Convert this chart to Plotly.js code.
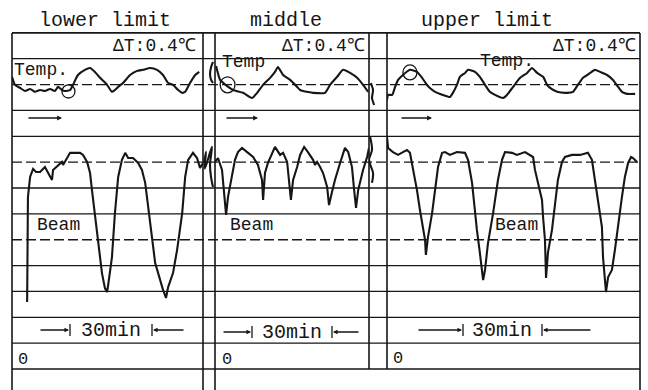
<!DOCTYPE html>
<html><head><meta charset="utf-8">
<script src="https://cdn.plot.ly/plotly-3.0.1.min.js"></script>
<style>html,body{margin:0;padding:0;background:#fff}#c{width:648px;height:390px}</style>
</head><body><div id="c"></div>
<script>
// ---- text ----
const panelTitles = ['lower limit', 'middle', 'upper limit'];
const deltaLabel = 'ΔT:0.4℃';
const tempLabels = ['Temp.', 'Temp', 'Temp.'];
const beamLabel = 'Beam';
const scaleLabel = '30min';
const zeroLabel = '0';

// ---- data: time in minutes from panel start, value in chart divisions ----
// lower limit
const lowerTempT = [0,1.1,3.0,4.8,6.7,8.5,10.4,12.2,14.1,15.9,17.0,18.5,19.6,21.5,22.6,24.4,27.0,28.9,30.7,32.6,35.2,37.0,38.1,39.3,41.1,43.7,46.3,48.5,51.1,53.7,55.9,57.8,59.6,61.5,63.0,64.1,65.9,67.8,69.3];
const lowerTempV = [11.30,10.99,10.87,10.75,10.83,10.72,10.79,10.75,10.83,10.75,10.91,10.79,10.75,10.79,10.99,11.37,11.57,11.64,11.49,11.26,10.99,10.72,10.79,10.91,11.06,11.37,11.53,11.57,11.64,11.57,11.37,11.06,10.99,10.79,10.68,10.72,11.06,11.37,11.49];
const lowerBeamT = [5.6,5.9,6.7,7.8,8.9,10.4,12.2,13.3,14.8,15.2,17.0,18.5,18.9,20.4,21.5,25.2,26.3,27.8,28.9,29.6,30.7,31.9,33.3,34.4,35.2,35.6,37.0,38.1,39.3,40.7,41.9,43.0,44.8,46.7,48.1,49.3,50.4,51.9,53.0,54.1,54.8,55.9,57.0,57.8,59.6,61.1,63.0,64.1,65.2,67.0,68.5,69.6,70.7];
const lowerBeamV = [2.59,6.65,7.43,7.74,7.62,7.62,7.81,7.62,7.31,7.70,7.89,8.01,7.89,8.16,8.36,8.36,8.28,8.01,7.58,6.92,6.03,4.87,3.71,3.13,2.98,3.25,4.33,6.03,7.43,8.09,8.36,8.16,8.16,7.97,7.70,7.20,6.27,5.11,4.10,3.71,3.44,3.06,2.75,3.17,3.71,4.60,6.03,7.43,8.09,8.36,8.16,7.78,7.97];
// middle
const middleTempT = [0.4,1.9,4.4,6.7,10.4,13.7,15.6,17.8,20.4,22.2,23.3,25.2,27.8,30.4,31.5,32.6,34.1,36.3,40.7,42.6,45.2,47.4,50.0,52.6,54.8,56.7];
const middleTempV = [11.72,11.18,10.95,10.79,10.68,10.48,10.68,10.99,11.26,11.49,11.68,11.37,11.18,10.91,10.79,10.75,10.72,10.68,10.68,10.99,11.30,11.57,11.45,11.26,10.99,10.72];
const middleBeamT = [0,1.1,2.6,4.1,4.8,6.3,7.4,8.5,10.0,11.9,14.1,15.9,17.4,17.8,18.5,19.6,21.1,22.2,24.1,25.2,26.7,27.4,28.1,28.9,30.4,31.5,33.0,34.4,36.3,37.0,37.8,38.9,40.0,41.5,42.2,43.3,44.4,46.3,48.1,49.3,50.7,51.5,52.2,53.0,54.8,56.3,57.0];
const middleBeamV = [8.01,8.16,7.70,5.96,6.65,7.58,8.09,8.39,8.55,8.39,8.20,7.89,7.31,6.54,7.58,7.97,8.36,8.59,8.28,8.36,8.01,7.31,6.54,7.31,7.81,8.28,8.59,8.39,8.09,7.89,8.01,7.81,7.58,7.04,6.34,6.85,7.31,7.97,8.55,8.39,7.81,6.92,6.23,6.92,7.70,8.20,8.55];
// upper limit
const upperTempT = [0,0.4,1.9,3.0,4.1,5.9,8.5,11.1,13.0,14.8,15.9,17.8,20.7,23.3,24.4,25.9,27.0,28.9,30.0,32.6,34.4,36.3,38.1,40.0,43.0,44.4,46.7,49.3,51.9,53.7,55.6,57.8,59.3,60.4,63.0,66.7,68.9,70.7,72.6,75.2,77.0,78.9,81.5,83.7,85.6,87.0,88.9,91.9];
const upperTempV = [10.41,10.60,10.60,10.91,11.18,11.37,11.57,11.49,11.26,10.99,10.87,10.72,10.60,10.52,10.68,10.99,11.30,11.45,11.57,11.49,11.30,10.99,10.72,10.60,10.48,10.60,10.91,11.26,11.45,11.64,11.45,11.30,10.99,10.87,10.72,10.68,10.72,10.99,11.26,11.45,11.57,11.49,11.37,11.18,10.91,10.72,10.64,10.64];
const upperBeamT = [0,0.4,2.2,4.1,5.9,7.4,8.5,9.6,11.1,12.2,13.3,14.1,14.4,15.2,16.7,17.8,18.9,20.4,21.5,23.3,25.9,28.9,30.0,31.5,32.6,33.3,34.4,35.6,36.3,37.4,39.3,41.1,42.6,43.7,46.3,48.1,51.1,54.1,54.8,55.9,57.4,57.8,58.5,58.9,59.6,61.1,62.2,63.3,64.8,65.9,68.5,71.5,74.4,75.9,77.0,78.1,79.6,80.0,81.1,81.9,83.3,84.4,85.6,87.0,88.1,89.3,90.4,91.1,92.6];
const upperBeamV = [8.97,8.55,8.39,8.28,8.39,8.47,8.36,7.81,6.92,6.15,5.38,4.99,4.41,5.11,6.03,7.04,7.81,8.36,8.39,8.28,8.39,8.36,8.09,7.20,6.03,5.38,4.49,3.44,3.83,4.87,6.03,7.31,8.09,8.39,8.36,8.28,8.39,8.20,7.70,7.20,6.54,5.88,4.99,3.52,4.49,5.38,6.27,7.31,8.01,8.20,8.28,8.28,8.36,8.09,7.31,6.54,5.49,4.33,2.98,3.56,3.83,4.60,5.65,6.65,7.43,7.97,8.20,8.16,8.01];
// pen strokes recorded in the gaps between the panels
const gap1TempT = [3.7,3.0,2.6,3.0,3.7];
const gap1TempV = [11.88,11.68,11.41,11.18,11.06];
const gap1BeamT = [0.4,1.1,0.7,3.3,2.6,3.0,3.7];
const gap1BeamV = [7.97,8.40,7.75,8.59,7.90,7.40,7.04];
const gap2TempT = [0.7,1.5,1.1,1.9];
const gap2TempV = [11.06,10.79,10.48,10.21];
const gap2BeamT = [0.4,1.1,0.0,1.5,1.1];
const gap2BeamV = [8.97,8.47,8.09,7.58,7.20];

// chart-paper divisions (horizontal rulings)
const divisions = [0,1,2,3,4,5,6,7,8,9,10,11,12,13];
const dashedDivisions = [11,8,5];

// ---- layout helpers (pixel -> paper) ----
const W = 648, H = 390;
const X = p => p / W;
const Y = p => 1 - p / H;
const INK = '#161616';
const FONT = 'Liberation Mono, DejaVu Sans Mono, monospace';

const axes = [
  {id:'x',  left:12,  right:203, range:[0,70.7]},
  {id:'x2', left:215, right:369, range:[0,57.0]},
  {id:'x3', left:387, right:640, range:[0,93.7]},
  {id:'x4', left:203, right:215, range:[0,4.44]},
  {id:'x5', left:369, right:387, range:[0,6.67]}
];

const series = [
  [0, lowerTempT, lowerTempV, lowerBeamT, lowerBeamV],
  [1, middleTempT, middleTempV, middleBeamT, middleBeamV],
  [2, upperTempT, upperTempV, upperBeamT, upperBeamV],
  [3, gap1TempT, gap1TempV, gap1BeamT, gap1BeamV],
  [4, gap2TempT, gap2TempV, gap2BeamT, gap2BeamV]
];

const traces = [];
series.forEach(s => {
  const ax = axes[s[0]].id;
  traces.push({x:s[1], y:s[2], xaxis:ax, yaxis:'y', type:'scatter', mode:'lines',
    line:{color:INK, width:2.1, shape:'spline', smoothing:0.5}, hoverinfo:'skip'});
  traces.push({x:s[3], y:s[4], xaxis:ax, yaxis:'y', type:'scatter', mode:'lines',
    line:{color:INK, width:2.1, shape: s[0] > 2 ? 'spline' : 'linear'}, hoverinfo:'skip'});
});

const shapes = [];
divisions.forEach(d => {
  shapes.push({type:'line', xref:'paper', yref:'y', x0:X(12), x1:X(640), y0:d, y1:d,
    line:{color:INK, width:(d===13||d===0)?1.6:1.3, dash: dashedDivisions.includes(d)?'10px,4px':'solid'}});
});
// vertical rulings
[[12,33,390],[203,33,390],[215,33,390],[369,33,369],[387,33,369],[640,33,390]].forEach(v => {
  shapes.push({type:'line', xref:'paper', yref:'paper', x0:X(v[0]), x1:X(v[0]), y0:Y(v[1]), y1:Y(v[2]),
    line:{color:INK, width:1.6}});
});
// circles marking the temperature traces
[[0,18.5,23.3,10.48,10.99],[1,1.9,7.4,10.68,11.30],[2,5.9,11.1,11.18,11.76]].forEach(c => {
  shapes.push({type:'circle', xref:axes[c[0]].id, yref:'y', x0:c[1], x1:c[2], y0:c[3], y1:c[4],
    line:{color:INK, width:1.3}});
});

const annotations = [];
const txt = (text, x, y, size, xanchor) => annotations.push({text, x:X(x), y:Y(y), xref:'paper', yref:'paper',
  showarrow:false, xanchor:xanchor||'center', yanchor:'middle', font:{family:FONT, size, color:INK}});

// titles
txt(panelTitles[0], 105, 20, 20);
txt(panelTitles[1], 286, 20, 20);
txt(panelTitles[2], 487, 20, 20);
// delta T labels
txt(deltaLabel, 198, 46, 18, 'right');
txt(deltaLabel, 367, 46, 18, 'right');
txt(deltaLabel, 638, 46, 18, 'right');
// temp labels
txt(tempLabels[0], 12, 70, 18, 'left');
txt(tempLabels[1], 220, 62, 18, 'left');
txt(tempLabels[2], 478, 61, 18, 'left');
// beam labels
txt(beamLabel, 35, 225, 18, 'left');
txt(beamLabel, 228, 225, 18, 'left');
txt(beamLabel, 493, 225, 18, 'left');
// zero labels
txt(zeroLabel, 16, 359, 17, 'left');
txt(zeroLabel, 220, 359, 17, 'left');
txt(zeroLabel, 391, 358, 17, 'left');

// direction arrows
[[27,62],[225,258],[400,432]].forEach(a => {
  annotations.push({text:'', x:X(a[1]), y:Y(118), xref:'paper', yref:'paper', showarrow:true,
    ax:-(a[1]-a[0]), ay:0, arrowhead:2, arrowsize:0.7, arrowwidth:1.4, arrowcolor:INK});
});
// 30 min scale markers
[[39,70,152,185,111,330],[222,252,332,360,292,332],[417,463,542,592,502,330]].forEach(m => {
  const [a, bl, br, b, tc, yy] = m;
  txt(scaleLabel, tc, yy, 20);
  annotations.push({text:'', x:X(bl-1), y:Y(yy), xref:'paper', yref:'paper', showarrow:true,
    ax:-(bl-1-a), ay:0, arrowhead:2, arrowsize:0.7, arrowwidth:1.3, arrowcolor:INK});
  annotations.push({text:'', x:X(br+1), y:Y(yy), xref:'paper', yref:'paper', showarrow:true,
    ax:(b-br-1), ay:0, arrowhead:2, arrowsize:0.7, arrowwidth:1.3, arrowcolor:INK});
  [bl, br].forEach(bx => shapes.push({type:'line', xref:'paper', yref:'paper', x0:X(bx), x1:X(bx),
    y0:Y(yy-6), y1:Y(yy+6), line:{color:INK, width:1.3}}));
});

const layout = {
  width:W, height:H, margin:{l:0, r:0, t:0, b:0}, autosize:false,
  paper_bgcolor:'#ffffff', plot_bgcolor:'rgba(0,0,0,0)', showlegend:false,
  yaxis:{domain:[0,1], range:[-0.81, 14.27], visible:false},
  shapes, annotations
};
axes.forEach((a, i) => {
  layout[i === 0 ? 'xaxis' : 'xaxis' + (i + 1)] = {domain:[X(a.left), X(a.right)], range:a.range, visible:false, anchor:'y'};
});

Plotly.newPlot('c', traces, layout, {staticPlot:true, displayModeBar:false});
</script>
</body></html>
